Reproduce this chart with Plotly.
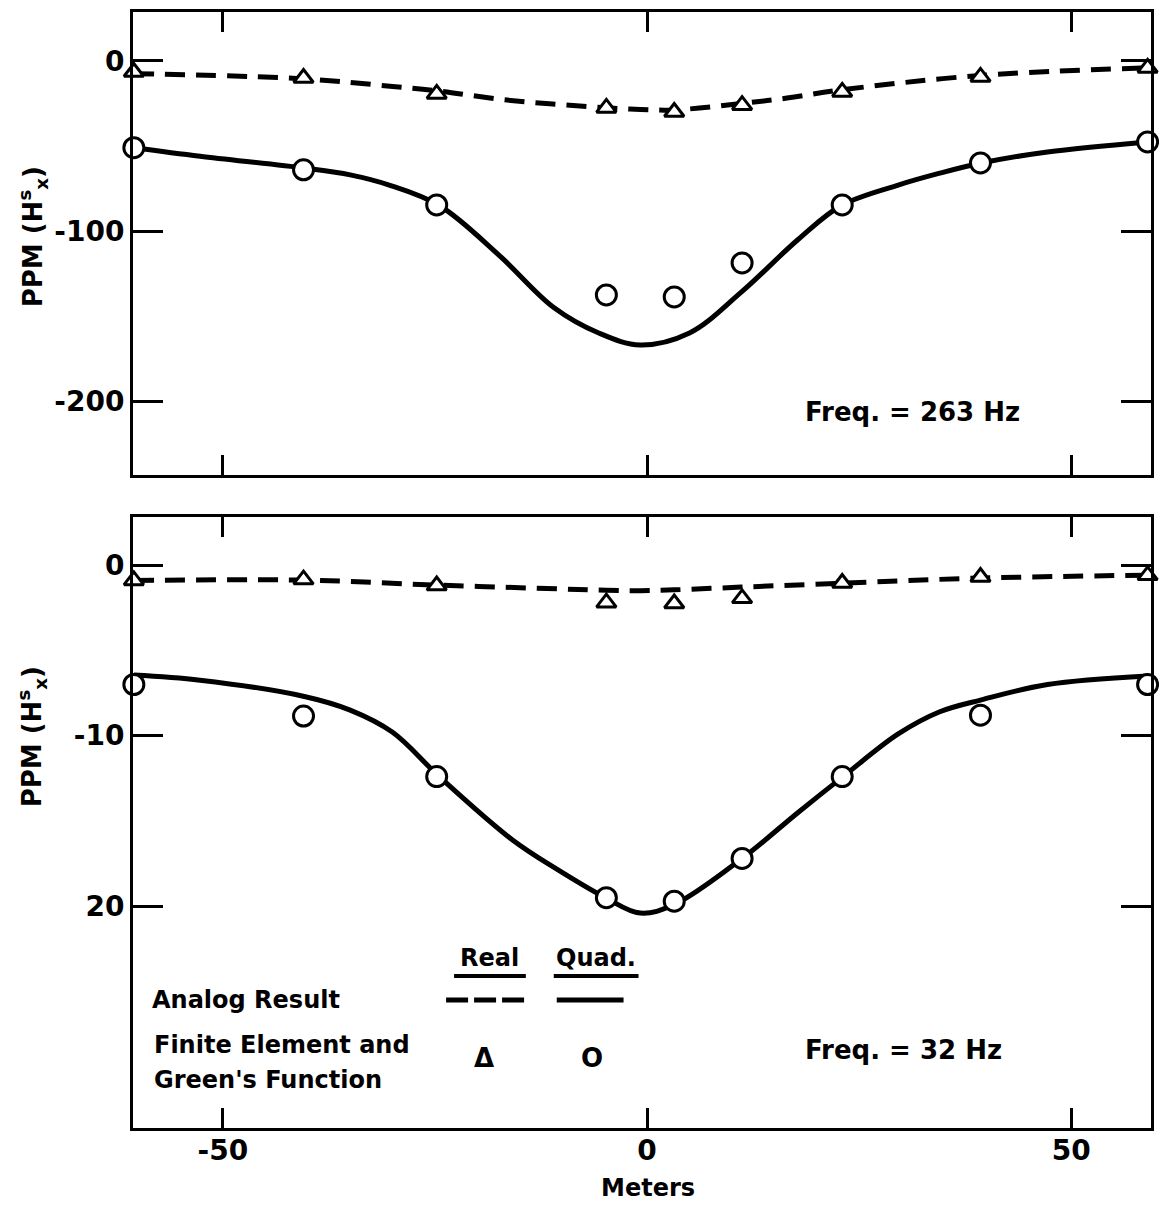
import plotly.graph_objects as go

# ---------------------------------------------------------------
# Profile stations (m) shared by the numerical solutions
stations = [-60.5, -40.5, -24.8, -4.8, 3.2, 11.2, 23.0, 39.3, 59.0]

# ---- 263 Hz -----------------------------------------------------
fe_real_263 = [-6.5, -10.0, -19.4, -27.6, -30.0, -26.0, -18.2, -9.4, -4.1]
fe_quad_263 = [-51.0, -64.0, -84.7, -137.6, -138.8, -118.8, -84.7, -60.0, -47.6]

analog_real_263_x = [-60.5, -40.5, -30.0, -24.8, -16.5, -4.8, -0.8, 3.2, 11.1, 16.5, 22.9, 39.3, 59.0]
analog_real_263 = [-7.5, -10.5, -15.0, -17.5, -23.0, -27.5, -28.5, -28.8, -25.0, -21.8, -17.0, -8.5, -4.0]

analog_quad_263_x = [-60.5, -52.7, -40.4, -35.0, -30.4, -24.5, -17.5, -11.0, -5.7, -0.8, 5.0,
                     11.1, 17.8, 22.9, 29.6, 34.5, 39.4, 47.2, 59.0]
analog_quad_263 = [-51.0, -56.0, -63.0, -67.0, -73.0, -85.0, -114.0, -145.0, -160.0, -167.0, -160.0,
                   -136.0, -105.0, -85.0, -73.0, -66.0, -60.0, -53.5, -47.6]

# ---- 32 Hz ------------------------------------------------------
fe_real_32 = [-0.9, -0.85, -1.2, -2.2, -2.25, -1.95, -1.05, -0.7, -0.6]
fe_quad_32 = [-7.0, -8.85, -12.4, -19.5, -19.7, -17.2, -12.4, -8.8, -7.0]

analog_real_32_x = [-60.5, -40.5, -24.8, -10.0, -4.8, -0.8, 3.2, 11.1, 23.0, 39.3, 59.0]
analog_real_32 = [-0.9, -0.88, -1.17, -1.4, -1.47, -1.5, -1.45, -1.29, -1.06, -0.76, -0.59]

analog_quad_32_x = [-60.5, -52.7, -40.4, -35.0, -30.0, -24.5, -15.9, -10.4, -4.9, -0.8, 3.2,
                    11.2, 17.8, 23.1, 29.6, 34.5, 39.4, 47.2, 59.0]
analog_quad_32 = [-6.45, -6.75, -7.7, -8.5, -9.8, -12.4, -16.1, -17.9, -19.5, -20.4, -19.9,
                  -17.2, -14.5, -12.4, -9.9, -8.6, -7.9, -7.0, -6.5]

# Axis ticks
x_ticks = [-50, 0, 50]
x_tick_text = ["-50", "0", "50"]
y_ticks_263 = [0, -100, -200]
y_tick_text_263 = ["0", "-100", "-200"]
y_ticks_32 = [0, -10, -20]
y_tick_text_32 = ["0", "-10", "20"]

FONT = "DejaVu Sans"
W, H = 1159, 1205
ML, MR, MT, MB = 133, 5, 12, 77
PW, PH = W - ML - MR, H - MT - MB


def px_x(px):
    return (px - ML) / PW


def px_y(py):
    return (H - MB - py) / PH


fig = go.Figure()


def add_panel(xa, ya, ax, ay, qx, qy, rx, ry):
    # analog curves
    fig.add_trace(go.Scatter(x=rx, y=ry, mode="lines", xaxis=xa, yaxis=ya,
                             line=dict(color="black", width=5, dash="20px,11px", shape="spline"),
                             showlegend=False, hoverinfo="skip"))
    fig.add_trace(go.Scatter(x=qx, y=qy, mode="lines", xaxis=xa, yaxis=ya,
                             line=dict(color="black", width=5, shape="spline"),
                             showlegend=False, hoverinfo="skip"))
    # finite element / Green's function points
    fig.add_trace(go.Scatter(x=stations, y=ax, mode="markers", xaxis=xa, yaxis=ya,
                             marker=dict(symbol="triangle-up", size=17, color="white",
                                         line=dict(color="black", width=3)),
                             cliponaxis=False, showlegend=False))
    fig.add_trace(go.Scatter(x=stations, y=ay, mode="markers", xaxis=xa, yaxis=ya,
                             marker=dict(symbol="circle", size=20, color="white",
                                         line=dict(color="black", width=3)),
                             cliponaxis=False, showlegend=False))


add_panel("x", "y", fe_real_263, fe_quad_263, analog_quad_263_x, analog_quad_263,
          analog_real_263_x, analog_real_263)
add_panel("x2", "y2", fe_real_32, fe_quad_32, analog_quad_32_x, analog_quad_32,
          analog_real_32_x, analog_real_32)

tickfont = dict(family=FONT, size=28, color="black", weight="bold")
axis_common = dict(showline=True, linewidth=3, linecolor="black", mirror="ticks",
                   ticks="inside", tickwidth=3, tickcolor="black",
                   showgrid=False, zeroline=False, tickfont=tickfont)

fig.update_layout(
    width=W, height=H,
    margin=dict(l=ML, r=MR, t=MT, b=MB),
    paper_bgcolor="white", plot_bgcolor="white",
    font=dict(family=FONT, color="black"),
    xaxis=dict(anchor="y", domain=[0, 1], range=[-60.6, 59.4], tickvals=x_ticks,
               showticklabels=False, ticklen=20, **axis_common),
    yaxis=dict(anchor="x", domain=[px_y(475), 1], range=[-243.5, 28.8],
               tickvals=y_ticks_263, ticktext=y_tick_text_263, ticklen=30, **axis_common),
    xaxis2=dict(anchor="y2", domain=[0, 1], range=[-60.6, 59.4], tickvals=x_ticks,
                ticktext=x_tick_text, ticklen=20, ticklabelstandoff=-5, **axis_common),
    yaxis2=dict(anchor="x2", domain=[0, px_y(517)], range=[-33.0, 2.82],
                tickvals=y_ticks_32, ticktext=y_tick_text_32, ticklen=30, **axis_common),
)

ann = []


def text(px, py, s, size=26, anchor="left", angle=0):
    ann.append(dict(x=px_x(px), y=px_y(py), xref="paper", yref="paper", text=s,
                    showarrow=False, xanchor=anchor, yanchor="middle", textangle=angle,
                    align="left", font=dict(family=FONT, size=size, color="black", weight="bold")))


ylab = "PPM (H<sup>s</sup><sub>x</sub>)"
text(32, 237, ylab, size=26, anchor="center", angle=-90)
text(32, 737, ylab, size=26, anchor="center", angle=-90)
text(650, 1188, "Meters", size=24, anchor="center")

text(805, 412, "Freq. = 263 Hz")
text(805, 1050, "Freq. = 32 Hz")

text(491, 958, "Real", size=24, anchor="center")
text(597, 958, "Quad.", size=24, anchor="center")
text(150, 1000, "Analog Result", size=24)
text(152, 1045, "Finite Element and", size=24)
text(152, 1080, "Green's Function", size=24)
text(485, 1058, "Δ", size=26, anchor="center")
text(593, 1058, "O", size=26, anchor="center")
fig.update_layout(annotations=ann)

shapes = []


def seg(x0, x1, py, width=4, dash="solid"):
    shapes.append(dict(type="line", xref="paper", yref="paper",
                       x0=px_x(x0), x1=px_x(x1), y0=px_y(py), y1=px_y(py),
                       line=dict(color="black", width=width, dash=dash)))


seg(455, 527, 976)
seg(555, 640, 976)
seg(447, 527, 1000, width=5, dash="22px,6px")
seg(558, 625, 1000, width=5)
fig.update_layout(shapes=shapes)

fig.write_html("out.html")
